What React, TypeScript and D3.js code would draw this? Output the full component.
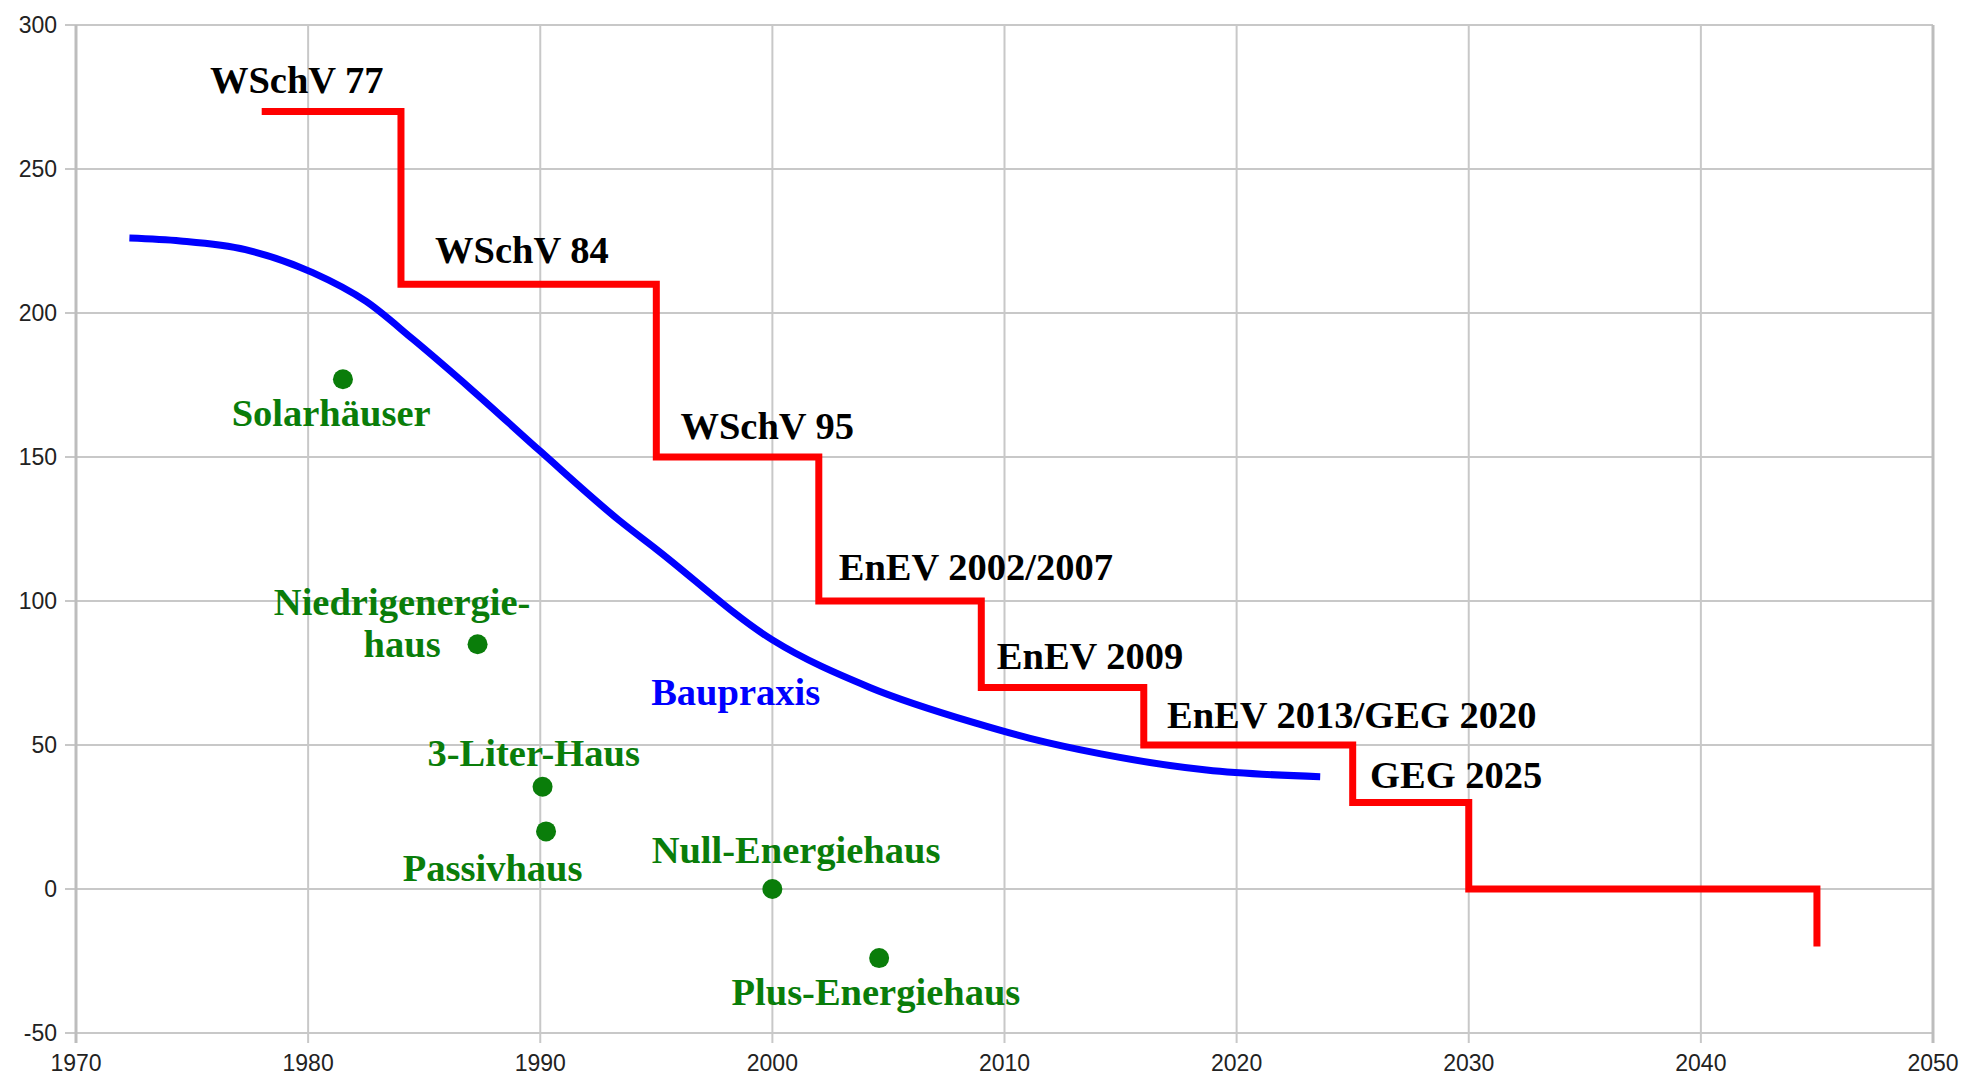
import React from "react";
import * as d3 from "d3";

const W = 1964;
const H = 1078;

const xTicks = [1970, 1980, 1990, 2000, 2010, 2020, 2030, 2040, 2050];
const yTicks = [-50, 0, 50, 100, 150, 200, 250, 300];

// Regulation steps (Wärmeschutzverordnung / EnEV / GEG)
const stepYears = [1978, 1984, 1995, 2002, 2009, 2016, 2025, 2030, 2045];
const stepValues = [270, 210, 150, 100, 70, 50, 30, 0, -20];

const stepLabels = [
  { text: "WSchV 77", year: 1975.77, value: 276.4 },
  { text: "WSchV 84", year: 1985.47, value: 217.2 },
  { text: "WSchV 95", year: 1996.04, value: 156.3 },
  { text: "EnEV 2002/2007", year: 2002.86, value: 107.3 },
  { text: "EnEV 2009", year: 2009.67, value: 76.3 },
  { text: "EnEV 2013/GEG 2020", year: 2017.0, value: 55.8 },
  { text: "GEG 2025", year: 2025.75, value: 35.2 },
];

// Baupraxis (building practice)
const bauYears = [1972.3, 1974.5, 1977.3, 1980.2, 1982.5, 1984.5, 1987.1, 1990, 1993.4, 1995, 2000, 2004.2, 2008.8, 2011.1, 2014.1, 2018.7, 2023.6];
const bauValues = [226, 225, 222, 214, 204, 191, 173, 152, 128, 118, 86.5, 70, 57.5, 52.3, 47, 41.3, 39];
const bauLabel = { text: "Baupraxis", year: 1998.42, value: 63.9 };

// Special house types
const houseYears = [1981.5, 1987.3, 1990.1, 1990.25, 2000, 2004.6];
const houseValues = [177, 85, 35.5, 20, 0, -24];

const houseLabels = [
  { text: "Solarhäuser", year: 1980.99, value: 160.8 },
  { text: "Niedrigenergie-", year: 1984.05, value: 95.1 },
  { text: "haus", year: 1984.05, value: 80.7 },
  { text: "3-Liter-Haus", year: 1989.72, value: 42.7 },
  { text: "Passivhaus", year: 1987.95, value: 2.8 },
  { text: "Null-Energiehaus", year: 2001.02, value: 9.1 },
  { text: "Plus-Energiehaus", year: 2004.46, value: -40.3 },
];

export default function App() {
  const left = 76;
  const right = 1933;
  const top = 25;
  const bottom = 1033;

  const x = d3.scaleLinear().domain([1970, 2050]).range([left, right]);
  const y = d3.scaleLinear().domain([-50, 300]).range([bottom, top]);

  const stepPts: [number, number][] = stepYears.map((yr, i) => [yr, stepValues[i]]);
  const stepPath = d3
    .line<[number, number]>()
    .x((d) => x(d[0]))
    .y((d) => y(d[1]))
    .curve(d3.curveStepAfter)(stepPts) as string;

  const bauPts: [number, number][] = bauYears.map((yr, i) => [yr, bauValues[i]]);
  const bauPath = d3
    .line<[number, number]>()
    .x((d) => x(d[0]))
    .y((d) => y(d[1]))
    .curve(d3.curveMonotoneX)(bauPts) as string;

  const labelFont = '"Liberation Serif", "Times New Roman", serif';
  const axisFont = '"Liberation Sans", Arial, sans-serif';
  const green = "#0a7d0a";
  const fs = 38.5;

  return (
    <>
      <style>{`body{margin:0;background:#fff}`}</style>
      <svg width={W} height={H} style={{ display: "block", background: "#fff" }}>
        {/* horizontal gridlines */}
        {yTicks.map((t) => (
          <line
            key={"hy" + t}
            x1={left - 11}
            x2={right}
            y1={y(t)}
            y2={y(t)}
            stroke="#c8c8c8"
            strokeWidth={2}
          />
        ))}
        {/* vertical gridlines */}
        {xTicks.map((t) => (
          <line
            key={"vx" + t}
            x1={x(t)}
            x2={x(t)}
            y1={top}
            y2={bottom + 10}
            stroke={t === 1970 || t === 2050 ? "#bdbdbd" : "#c8c8c8"}
            strokeWidth={t === 1970 || t === 2050 ? 3 : 2}
          />
        ))}
        {/* y tick labels */}
        {yTicks.map((t) => (
          <text
            key={"ly" + t}
            x={left - 19}
            y={y(t)}
            dy="0.35em"
            textAnchor="end"
            fontFamily={axisFont}
            fontSize={23}
            fill="#222"
          >
            {t}
          </text>
        ))}
        {/* x tick labels */}
        {xTicks.map((t) => (
          <text
            key={"lx" + t}
            x={x(t)}
            y={1071}
            textAnchor="middle"
            fontFamily={axisFont}
            fontSize={23}
            fill="#222"
          >
            {t}
          </text>
        ))}

        {/* Baupraxis curve */}
        <path d={bauPath} fill="none" stroke="#0000ff" strokeWidth={7} />

        {/* regulation steps */}
        <path d={stepPath} fill="none" stroke="#ff0000" strokeWidth={7} strokeLinejoin="miter" />

        {/* house type points */}
        {houseYears.map((yr, i) => (
          <circle key={"c" + i} cx={x(yr)} cy={y(houseValues[i])} r={10} fill={green} />
        ))}

        {/* labels */}
        {stepLabels.map((l) => (
          <text
            key={l.text}
            x={x(l.year)}
            y={y(l.value)}
            fontFamily={labelFont}
            fontWeight="bold"
            fontSize={fs}
            fill="#000"
          >
            {l.text}
          </text>
        ))}
        <text
          x={x(bauLabel.year)}
          y={y(bauLabel.value)}
          textAnchor="middle"
          fontFamily={labelFont}
          fontWeight="bold"
          fontSize={fs}
          fill="#0000ff"
        >
          {bauLabel.text}
        </text>
        {houseLabels.map((l) => (
          <text
            key={l.text}
            x={x(l.year)}
            y={y(l.value)}
            textAnchor="middle"
            fontFamily={labelFont}
            fontWeight="bold"
            fontSize={fs}
            fill={green}
          >
            {l.text}
          </text>
        ))}
      </svg>
    </>
  );
}
